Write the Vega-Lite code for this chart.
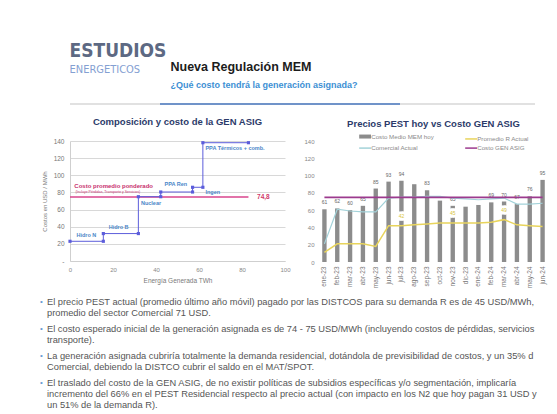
{
  "$schema": "https://vega.github.io/schema/vega-lite/v6.json",
  "background": "white",
  "padding": {"left": 40, "top": 41, "right": 0, "bottom": 0},
  "config": {
    "view": {"stroke": null},
    "font": "Liberation Sans",
    "concat": {"spacing": 0},
    "axis": {"labelOverlap": false, "labelFlush": false}
  },
  "resolve": {"scale": {"color": "independent"}, "legend": {"color": "independent"}},
  "datasets": {
    "step": [
      {"i": 1, "x": 0, "y": 23},
      {"i": 2, "x": 15.5, "y": 23},
      {"i": 3, "x": 15.5, "y": 32},
      {"i": 4, "x": 31.8, "y": 32},
      {"i": 5, "x": 31.8, "y": 75},
      {"i": 6, "x": 42.2, "y": 75},
      {"i": 7, "x": 42.2, "y": 80.5},
      {"i": 8, "x": 57, "y": 80.5},
      {"i": 9, "x": 57, "y": 86},
      {"i": 10, "x": 61.8, "y": 86},
      {"i": 11, "x": 61.8, "y": 138},
      {"i": 12, "x": 83, "y": 138}
    ],
    "steplabels": [
      {"x": 3, "y": 30, "t": "Hidro N"},
      {"x": 18, "y": 40, "t": "Hidro B"},
      {"x": 33, "y": 68, "t": "Nuclear"},
      {"x": 44, "y": 90, "t": "PPA Ren"},
      {"x": 63, "y": 80.5, "t": "Ingen"},
      {"x": 63, "y": 132, "t": "PPA Térmicos + comb."}
    ],
    "pink": [
      {"x": 0, "y": 74.8},
      {"x": 83, "y": 74.8}
    ],
    "pest": [
      {"mes": "ene-23", "bar": 61, "R": 11, "C": 21, "G": 74.8, "lbl": "61"},
      {"mes": "feb-23", "bar": 62, "R": 21, "C": 61, "G": 74.8, "lbl": "62"},
      {"mes": "mar-23", "bar": 60, "R": 21, "C": 59, "G": 74.8, "lbl": "60"},
      {"mes": "abr-23", "bar": 65, "R": 21, "C": 58, "G": 74.8, "lbl": "65"},
      {"mes": "may-23", "bar": 85, "R": 18, "C": 58, "G": 74.8, "lbl": "85"},
      {"mes": "jun-23", "bar": 93, "R": 42, "C": 74, "G": 74.8, "lbl": "93"},
      {"mes": "jul-23", "bar": 94, "R": 42, "C": 75, "G": 74.8, "lbl": "94", "rl": "42"},
      {"mes": "ago-23", "bar": 90, "R": 43, "C": 75, "G": 74.8},
      {"mes": "sep-23", "bar": 83, "R": 44, "C": 76, "G": 74.8, "lbl": "83"},
      {"mes": "oct-23", "bar": 71, "R": 45, "C": 76, "G": 74.8},
      {"mes": "nov-23", "bar": 65, "R": 45, "C": 74, "G": 74.8, "lbl": "65", "rl": "45"},
      {"mes": "dic-23", "bar": 64, "R": 45, "C": 73, "G": 74.8},
      {"mes": "ene-24", "bar": 66, "R": 45, "C": 72, "G": 74.8},
      {"mes": "feb-24", "bar": 69, "R": 46, "C": 73, "G": 74.8, "lbl": "69"},
      {"mes": "mar-24", "bar": 70, "R": 49, "C": 74, "G": 74.8, "lbl": "70", "rl": "49"},
      {"mes": "abr-24", "bar": 67, "R": 43, "C": 67, "G": 74.8, "lbl": "67"},
      {"mes": "may-24", "bar": 76, "R": 42, "C": 67, "G": 74.8, "lbl": "76"},
      {"mes": "jun-24", "bar": 95, "R": 41, "C": 68, "G": 74.8, "lbl": "95"}
    ],
    "bullets": [
      {"n": 1, "text": "El precio PEST actual (promedio último año móvil) pagado por las DISTCOS para su demanda R es de 45 USD/MWh,\npromedio del sector Comercial 71 USD."},
      {"n": 2, "text": "El costo esperado inicial de la generación asignada es de 74 - 75 USD/MWh (incluyendo costos de pérdidas, servicios\ntransporte)."},
      {"n": 3, "text": "La generación asignada cubriría totalmente la demanda residencial, dotándola de previsibilidad de costos, y un 35% d\nComercial, debiendo la DISTCO cubrir el saldo en el MAT/SPOT."},
      {"n": 4, "text": "El traslado del costo de la GEN ASIG, de no existir políticas de subsidios específicas y/o segmentación, implicaría\nincremento del 66% en el PEST Residencial respecto al precio actual (con impacto en los N2 que hoy pagan 31 USD y\nun 51% de la demanda R)."}
    ]
  },
  "vconcat": [
    {
      "hconcat": [
        {
          "width": 100,
          "height": 4,
          "data": {"values": [{}]},
          "mark": {"type": "rule", "opacity": 0},
          "encoding": {},
          "title": {
            "text": "ESTUDIOS",
            "subtitle": "ENERGETICOS",
            "anchor": "start",
            "font": "Liberation Sans Narrow, DejaVu Sans Condensed, Liberation Sans",
            "fontSize": 19,
            "fontWeight": "bold",
            "color": "#5d6983",
            "subtitleFont": "Liberation Sans Narrow, DejaVu Sans Condensed, Liberation Sans",
            "subtitleFontSize": 11,
            "subtitleColor": "#84a0d2",
            "subtitlePadding": 3,
            "offset": 24
          }
        },
        {
          "width": 365,
          "height": 4,
          "data": {"values": [{}]},
          "mark": {"type": "rule", "opacity": 0},
          "encoding": {},
          "title": {
            "text": "Nueva Regulación MEM",
            "subtitle": "¿Qué costo tendrá la generación asignada?",
            "anchor": "start",
            "fontSize": 12.5,
            "fontWeight": "bold",
            "color": "#1c1c1c",
            "subtitleFontSize": 9,
            "subtitleFontWeight": "bold",
            "subtitleColor": "#3d8fd4",
            "subtitlePadding": 7,
            "offset": 9
          }
        }
      ]
    },
    {
      "width": 465,
      "height": 12,
      "data": {"values": [{}]},
      "layer": [
        {
          "mark": {"type": "rule", "color": "#c4c4c4", "strokeWidth": 1.2},
          "encoding": {
            "y": {"datum": 1, "type": "quantitative", "scale": {"domain": [0, 1]}, "axis": null}
          }
        },
        {
          "mark": {"type": "rule", "color": "#4a78c0", "strokeWidth": 1.5},
          "encoding": {
            "x": {"datum": 90, "type": "quantitative", "scale": {"domain": [0, 465]}, "axis": null},
            "x2": {"datum": 330},
            "y": {"datum": 1, "type": "quantitative", "scale": {"domain": [0, 1]}, "axis": null}
          }
        }
      ]
    },
    {
      "spacing": 12,
      "resolve": {"scale": {"color": "independent"}, "legend": {"color": "independent"}},
      "hconcat": [
        {
          "width": 215,
          "height": 120,
          "title": {"text": "Composición y costo de la GEN ASIG", "fontSize": 9.5, "fontWeight": "bold", "color": "#2c3b6a", "offset": 12},
          "layer": [
            {
              "data": {"name": "pink"},
              "mark": {"type": "line", "color": "#d9448c", "strokeWidth": 1.5},
              "encoding": {
                "x": {"field": "x", "type": "quantitative", "scale": {"domain": [0, 100]},
                  "axis": {"tickCount": 5, "title": "Energía Generada TWh", "titleFontSize": 6.5, "titleFontWeight": "normal", "titleColor": "#7a7a7a", "labelFontSize": 6, "labelColor": "#888", "grid": false, "domainColor": "#cfcfcf", "ticks": false, "labelPadding": 5, "titlePadding": 5}},
                "y": {"field": "y", "type": "quantitative", "scale": {"domain": [0, 140], "nice": false},
                  "axis": {"tickCount": 7, "labelExpr": "datum.value == 0 ? '-' : datum.label", "title": "Costos en USD / MWh", "titleFontSize": 6, "titleFontWeight": "normal", "titleColor": "#7a7a7a", "labelFontSize": 6.5, "labelColor": "#777", "grid": true, "gridColor": "#d8d8d8", "gridWidth": 1, "domainColor": "#cfcfcf", "ticks": false, "labelPadding": 6, "titlePadding": 6}}
              }
            },
            {
              "data": {"name": "step"},
              "mark": {"type": "line", "color": "#5c5ddb", "strokeWidth": 1, "point": {"shape": "square", "size": 10, "filled": true, "color": "#5c5ddb"}},
              "encoding": {
                "x": {"field": "x", "type": "quantitative"},
                "y": {"field": "y", "type": "quantitative"},
                "order": {"field": "i"}
              }
            },
            {
              "data": {"name": "steplabels"},
              "mark": {"type": "text", "align": "left", "baseline": "middle", "fontSize": 5.5, "fontWeight": "bold", "color": "#4a86c8"},
              "encoding": {
                "x": {"field": "x", "type": "quantitative"},
                "y": {"field": "y", "type": "quantitative"},
                "text": {"field": "t"}
              }
            },
            {
              "data": {"values": [{"x": 2, "y": 87, "t": "Costo promedio ponderado"}]},
              "mark": {"type": "text", "align": "left", "baseline": "middle", "fontSize": 6, "fontWeight": "bold", "color": "#c8306e"},
              "encoding": {
                "x": {"field": "x", "type": "quantitative"},
                "y": {"field": "y", "type": "quantitative"},
                "text": {"field": "t"}
              }
            },
            {
              "data": {"values": [{"x": 2.5, "y": 81, "t": "(Incluye Pérdidas, Transporte y Servicios)"}]},
              "mark": {"type": "text", "align": "left", "baseline": "middle", "fontSize": 3.5, "color": "#c8306e"},
              "encoding": {
                "x": {"field": "x", "type": "quantitative"},
                "y": {"field": "y", "type": "quantitative"},
                "text": {"field": "t"}
              }
            },
            {
              "data": {"values": [{"x": 87, "y": 74.8, "t": "74,8"}]},
              "mark": {"type": "text", "align": "left", "baseline": "middle", "fontSize": 6.5, "fontWeight": "bold", "color": "#d03a6a"},
              "encoding": {
                "x": {"field": "x", "type": "quantitative"},
                "y": {"field": "y", "type": "quantitative"},
                "text": {"field": "t"}
              }
            }
          ]
        },
        {
          "width": 231,
          "height": 121,
          "data": {"name": "pest"},
          "title": {"text": "Precios PEST hoy vs Costo GEN ASIG", "fontSize": 9.5, "fontWeight": "bold", "color": "#2c3b6a", "offset": 5},
          "encoding": {
            "x": {"field": "mes", "type": "ordinal", "sort": null, "scale": {"paddingInner": 0.66, "paddingOuter": 0.33},
              "axis": {"labelAngle": -90, "title": null, "labelFontSize": 6.5, "labelColor": "#777", "domain": false, "ticks": false, "labelPadding": 4}}
          },
          "layer": [
            {
              "mark": {"type": "bar", "color": "#8c8c8c"},
              "encoding": {
                "y": {"field": "bar", "type": "quantitative", "scale": {"domain": [0, 140], "nice": false},
                  "axis": {"tickCount": 7, "title": null, "labelFontSize": 6, "labelColor": "#888", "grid": false, "domain": false, "ticks": false, "labelPadding": 4}},
                "color": {"datum": "Costo Medio MEM hoy", "type": "nominal",
                  "scale": {"domain": ["Costo Medio MEM hoy", "Comercial Actual", "Promedio R Actual", "Costo GEN ASIG"], "range": ["#8c8c8c", "#a3d2d9", "#e8d45c", "#9c3a8e"]},
                  "legend": {"orient": "none", "legendX": 44, "legendY": -8, "columns": 2, "title": null, "symbolType": "stroke", "symbolSize": 140, "labelFontSize": 6.2, "labelColor": "#8a8a8a", "columnPadding": 28, "rowPadding": 0, "labelOffset": 3,
                    "encode": {"symbols": {"update": {"stroke": {"scale": "color", "field": "value"}, "strokeWidth": {"signal": "datum.label === 'Costo Medio MEM hoy' ? 4 : 1.5"}}}}}}
              }
            },
            {
              "transform": [{"filter": "datum.lbl != null"}],
              "mark": {"type": "text", "dy": -4, "fontSize": 5, "color": "#666", "baseline": "bottom"},
              "encoding": {
                "y": {"field": "bar", "type": "quantitative"},
                "text": {"field": "lbl"}
              }
            },
            {
              "mark": {"type": "line", "strokeWidth": 1.2},
              "encoding": {
                "y": {"field": "C", "type": "quantitative"},
                "color": {"datum": "Comercial Actual", "type": "nominal"}
              }
            },
            {
              "mark": {"type": "line", "strokeWidth": 1.5},
              "encoding": {
                "y": {"field": "R", "type": "quantitative"},
                "color": {"datum": "Promedio R Actual", "type": "nominal"}
              }
            },
            {
              "mark": {"type": "line", "strokeWidth": 1.8},
              "encoding": {
                "y": {"field": "G", "type": "quantitative"},
                "color": {"datum": "Costo GEN ASIG", "type": "nominal"}
              }
            },
            {
              "transform": [{"filter": "datum.rl != null"}],
              "mark": {"type": "text", "dy": -10, "fontSize": 5, "color": "#d8c440", "stroke": "white", "strokeWidth": 5},
              "encoding": {
                "y": {"field": "R", "type": "quantitative"},
                "text": {"field": "rl"}
              }
            },
            {
              "transform": [{"filter": "datum.rl != null"}],
              "mark": {"type": "text", "dy": -10, "fontSize": 5, "color": "#d8c440"},
              "encoding": {
                "y": {"field": "R", "type": "quantitative"},
                "text": {"field": "rl"}
              }
            }
          ]
        }
      ]
    },
    {
      "width": 465,
      "height": 91,
      "data": {"name": "bullets"},
      "encoding": {
        "x": {"datum": 0, "type": "quantitative", "scale": {"domain": [0, 1]}, "axis": null},
        "y": {"field": "n", "type": "quantitative", "scale": {"domain": [0.63, 4], "reverse": true}, "axis": null}
      },
      "layer": [
        {
          "mark": {"type": "text", "align": "left", "baseline": "top", "fontSize": 9.3, "lineHeight": 11, "lineBreak": "\n", "color": "#555", "dx": -23},
          "encoding": {"text": {"field": "text"}}
        },
        {
          "mark": {"type": "text", "align": "left", "baseline": "top", "fontSize": 8, "color": "#6b9bd2", "text": "•", "dx": -30}
        }
      ]
    }
  ]
}
